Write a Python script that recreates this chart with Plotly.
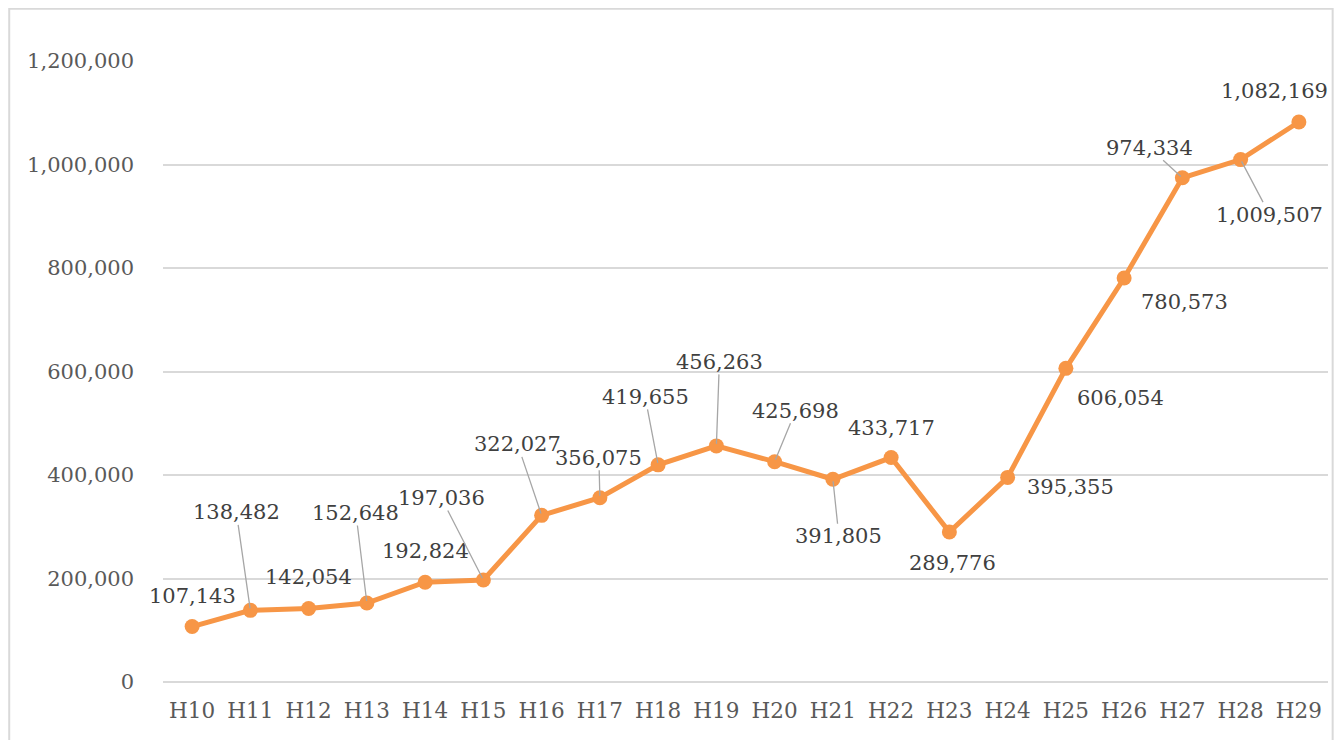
import plotly.graph_objects as go

categories = ["H10", "H11", "H12", "H13", "H14", "H15", "H16", "H17", "H18", "H19",
              "H20", "H21", "H22", "H23", "H24", "H25", "H26", "H27", "H28", "H29"]
values = [107143, 138482, 142054, 152648, 192824, 197036, 322027, 356075, 419655, 456263,
          425698, 391805, 433717, 289776, 395355, 606054, 780573, 974334, 1009507, 1082169]
y_ticks = [0, 200000, 400000, 600000, 800000, 1000000, 1200000]

# label offsets in pixels (dx, dy) and whether a leader line is shown
label_offsets = [(0, -31), (-14, -98), (0, -31), (-11, -90), (0, -31), (-42, -82),
                 (-24, -71), (-1, -40), (-13, -68), (3, -84), (21, -51), (6, 57),
                 (0, -30), (3, 31), (63, 10), (55, 30), (60, 24), (-33, -30),
                 (29, 55), (-24, -31)]
leaders = [False, True, False, True, False, True, True, True, True, True, True, True,
           False, False, False, False, False, True, True, False]

FONT = "DejaVu Serif"
ORANGE = "#F79646"

fig = go.Figure()
fig.add_trace(go.Scatter(
    x=categories, y=values, mode="lines+markers",
    line=dict(color=ORANGE, width=5),
    marker=dict(color=ORANGE, size=15),
    cliponaxis=False, hoverinfo="skip", showlegend=False,
))

annotations = []
for c, v, (dx, dy), ld in zip(categories, values, label_offsets, leaders):
    annotations.append(dict(
        x=c, y=v, xref="x", yref="y",
        text=f"{v:,}", showarrow=True, ax=dx, ay=dy,
        arrowhead=0, arrowwidth=1.3, standoff=2,
        arrowcolor="#a6a6a6" if ld else "rgba(0,0,0,0)",
        font=dict(family=FONT, size=21, color="#404040"),
        borderpad=0,
    ))

fig.update_layout(
    width=1335, height=732,
    margin=dict(l=155, r=15, t=53, b=58),
    paper_bgcolor="white", plot_bgcolor="white",
    font=dict(family=FONT, size=21, color="#595959"),
    annotations=annotations,
    shapes=[dict(type="rect", xref="paper", yref="paper",
                 x0=-0.132, x1=1.004, y0=-0.2, y1=1.084,
                 line=dict(color="#d9d9d9", width=2), fillcolor="rgba(0,0,0,0)",
                 layer="below")],
    xaxis=dict(
        type="category", showgrid=False, showline=False, ticks="",
        tickfont=dict(family=FONT, size=21.5, color="#595959"),
        ticklabelstandoff=13, range=[-0.5, 19.5],
    ),
    yaxis=dict(
        range=[0, 1200000], tickvals=y_ticks,
        ticktext=[f"{t:,}" for t in y_ticks],
        showgrid=True, gridcolor="#d9d9d9", gridwidth=1.5,
        zeroline=True, zerolinecolor="#d9d9d9", zerolinewidth=1.5,
        showline=False, ticks="",
        tickfont=dict(family=FONT, size=21, color="#595959"),
        ticklabelstandoff=28,
    ),
)

fig.write_html("out.html")
